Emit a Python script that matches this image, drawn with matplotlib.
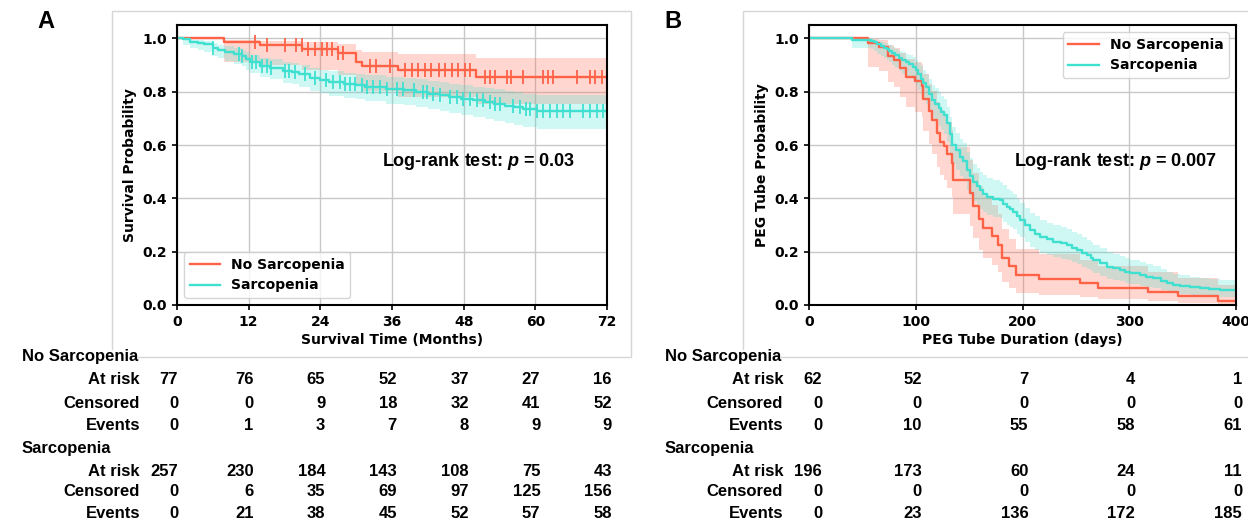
import numpy as np
import matplotlib
matplotlib.use("Agg")
import matplotlib.pyplot as plt
from matplotlib.patches import Rectangle
from matplotlib.transforms import blended_transform_factory, offset_copy

plt.rcParams["font.family"] = "DejaVu Sans"
plt.rcParams["mathtext.fontset"] = "custom"
plt.rcParams["mathtext.rm"] = "Liberation Sans:bold"
plt.rcParams["mathtext.it"] = "Liberation Sans:italic:bold"

RED = "#FF6347"
TEAL = "#40E0D0"

# --- Panel A: overall survival (months) ---
a_no_t = [0, 7.9, 13.9, 21, 27, 30, 31, 37, 50]
a_no_s = [1.0, .987, .974, .960, .945, .911, .897, .880, .855]
a_no_lo = [1.0, .912, .899, .882, .864, .820, .802, .780, .755]
a_no_hi = [1.0, .995, .990, .985, .978, .955, .949, .943, .925]
a_no_cens = [13.1, 15, 18.1, 20, 20.9, 22, 23.1, 24.2, 25.1, 26, 27, 27.8, 32.3, 33.4,
             35.7, 38.2, 39.3, 40.4, 41.5, 42.6, 43.8, 44.9, 46, 47.1, 48.2, 49.1, 51.6,
             52.4, 53.2, 55.2, 56, 58, 61.3, 62.2, 63, 66.9, 69.1, 70, 71.1]

a_sa_t = [0, 1, 2.2, 3.5, 4.5, 6, 6.8, 8, 9.5, 10.8, 11.6, 12.3, 13.9, 15.6, 17.8, 19.2,
          20.5, 22.3, 24, 25.5, 28, 30, 31.5, 35, 38, 40, 42, 44, 45.5, 47.5, 49.5, 51.5,
          53, 55, 56.5, 58, 60.2]
a_sa_s = [1.0, .996, .988, .982, .977, .965, .957, .949, .941, .933, .921, .910, .898, .890,
          .878, .874, .866, .853, .845, .836, .830, .824, .818, .810, .805, .799, .792, .786,
          .780, .774, .767, .761, .755, .748, .741, .735, .728]
a_sa_lo = [1.0, .975, .965, .955, .948, .935, .925, .915, .905, .897, .882, .869, .855, .846,
           .832, .827, .818, .804, .795, .785, .778, .771, .764, .755, .749, .742, .734, .727,
           .720, .713, .705, .698, .691, .683, .675, .668, .660]
a_sa_hi = [1.0, .999, .995, .992, .990, .981, .976, .970, .964, .957, .947, .938, .928, .921,
           .911, .908, .901, .890, .883, .876, .871, .866, .861, .855, .851, .846, .840, .835,
           .830, .825, .819, .814, .809, .803, .797, .792, .787]
a_sa_cens = [6, 10.3, 10.8, 12.5, 13.2, 14.2, 15, 15.8, 18.1, 18.8, 19.8, 21.4, 23.1, 25,
             26.2, 27.3, 28.1, 29, 29.8, 30.9, 31.8, 32.9, 34, 35.1, 36.8, 37.9, 39.6, 41.2,
             41.8, 42.9, 44, 45.7, 46.8, 47.9, 49.1, 50.2, 51.3, 52.4, 53.2, 54.1, 56.3, 57.4,
             58.5, 59.1, 60.2, 61.3, 62.4, 63.6, 64.7, 65.8, 68, 69.1, 70.3, 71.4]

a_ticks = [0, 12, 24, 36, 48, 60, 72]
a_no_risk = [77, 76, 65, 52, 37, 27, 16]
a_no_censored = [0, 0, 9, 18, 32, 41, 52]
a_no_events = [0, 1, 3, 7, 8, 9, 9]
a_sa_risk = [257, 230, 184, 143, 108, 75, 43]
a_sa_censored = [0, 6, 35, 69, 97, 125, 156]
a_sa_events = [0, 21, 38, 45, 52, 57, 58]

# --- Panel B: PEG tube duration (days) ---
b_no_t = [0, 55, 66, 74, 80, 85, 91, 99, 106, 107, 112, 115, 120, 123, 126, 129, 134, 135,
          151, 154, 159, 163, 171, 177, 181, 187, 194, 215, 254, 271, 318, 346, 383]
b_no_s = [1.0, .984, .968, .935, .919, .887, .855, .839, .823, .774, .726, .694, .645, .613,
          .597, .565, .532, .468, .419, .371, .323, .290, .258, .226, .177, .145, .113, .097,
          .081, .065, .048, .032, .016]
b_no_lo = [1.0, .891, .877, .838, .818, .779, .741, .722, .705, .653, .602, .568, .518, .486,
           .470, .439, .406, .343, .296, .251, .207, .178, .150, .124, .087, .064, .046, .038,
           .030, .022, .014, .008, .002]
b_no_hi = [1.0, .998, .992, .976, .965, .945, .924, .913, .902, .866, .828, .802, .760, .732,
           .718, .688, .658, .594, .545, .496, .446, .410, .376, .341, .286, .249, .210, .190,
           .170, .148, .125, .100, .075]

b_sa_t = [0, 40, 58, 61, 64, 67, 70, 73, 75, 78, 81, 84, 87.5, 91, 94, 97, 100, 102, 104.6,
          107, 109.3, 112, 115.5, 118, 121.8, 124, 126.5, 129.6, 132, 134.3, 138, 141.4, 144,
          147.7, 151, 154, 157, 160.2, 163, 166.5, 172, 179, 182, 185.3, 188, 191.5, 195,
          197.8, 202, 207.2, 212, 216.6, 223, 229, 236, 241.5, 246, 250.9, 256, 260.3, 264,
          266.5, 273, 279, 285, 291.5, 296, 300.9, 310.2, 316, 322.7, 330, 335.2, 341, 347.7,
          357, 366.4, 375, 385.2]
b_sa_s = [1.0, .995, .990, .985, .977, .972, .964, .959, .954, .944,
          .936, .926, .918, .911, .903, .893, .880, .865, .849, .832,
          .816, .793, .768, .755, .740, .725, .712, .681, .640, .600,
          .580, .555, .540, .506, .482, .462, .445, .431, .418, .406,
          .399, .393, .380, .368, .360, .350, .332, .318, .300, .281,
          .268, .256, .246, .237, .231, .225, .215, .206, .196, .187,
          .178, .169, .157, .144, .137, .131, .125, .119, .112, .106,
          .100, .090, .081, .076, .071, .066, .062, .059, .056]
b_sa_lo = [1.0, .965, .960, .953, .943, .935, .925, .918, .912, .900,
           .890, .878, .868, .859, .851, .839, .825, .808, .789, .771,
           .754, .729, .703, .689, .673, .657, .643, .611, .569, .528,
           .508, .482, .467, .433, .410, .390, .374, .361, .348, .337,
           .330, .325, .312, .301, .294, .284, .267, .254, .237, .219,
           .207, .196, .187, .179, .174, .168, .160, .152, .143, .135,
           .127, .120, .110, .099, .094, .089, .084, .079, .073, .069,
           .064, .056, .049, .046, .042, .038, .035, .033, .031]
b_sa_hi = [1.0, .999, .997, .995, .990, .987, .981, .978, .975, .967,
           .961, .954, .948, .942, .937, .929, .919, .908, .895, .881,
           .867, .847, .825, .812, .798, .784, .772, .743, .705, .666,
           .646, .622, .608, .574, .550, .530, .514, .500, .487, .475,
           .468, .462, .449, .436, .428, .417, .399, .384, .365, .345,
           .332, .319, .308, .299, .292, .286, .275, .265, .254, .245,
           .235, .225, .212, .198, .190, .183, .176, .169, .161, .154,
           .147, .135, .124, .118, .112, .106, .101, .097, .093]

b_ticks = [0, 100, 200, 300, 400]
b_no_risk = [62, 52, 7, 4, 1]
b_no_censored = [0, 0, 0, 0, 0]
b_no_events = [0, 10, 55, 58, 61]
b_sa_risk = [196, 173, 60, 24, 11]
b_sa_censored = [0, 0, 0, 0, 0]
b_sa_events = [0, 23, 136, 172, 185]

W, H = 1248, 523
fig = plt.figure(figsize=(W / 100, H / 100), dpi=100)


def fx(px):
    return px / W


def fy(py):
    return 1 - py / H


# light gray frames around each panel
for x0, x1 in [(112, 631), (743, 1260)]:
    fig.patches.append(Rectangle((fx(x0), fy(357)), fx(x1 - x0), (357 - 11) / H,
                                 transform=fig.transFigure, facecolor="none",
                                 edgecolor="#d6d6d6", linewidth=1, zorder=0))


def km_curve(ax, t, s, lo, hi, xmax, color, label, cens=None):
    x = np.append(t, xmax)
    y = np.append(s, s[-1])
    ax.fill_between(x, np.append(lo, lo[-1]), np.append(hi, hi[-1]), step="post",
                    color=color, alpha=0.25, linewidth=0)
    ax.step(x, y, where="post", color=color, linewidth=1.7, label=label)
    if cens is not None:
        idx = np.searchsorted(t, cens, side="right") - 1
        ax.plot(cens, np.array(s)[idx], linestyle="none", marker="|", color=color,
                markersize=10, markeredgewidth=1.3)


def style_axes(ax, ticks, xlabel, ylabel):
    ax.set_xlim(ticks[0], ticks[-1])
    ax.set_ylim(0, 1.05)
    ax.set_xticks(ticks)
    ax.set_yticks([0, 0.2, 0.4, 0.6, 0.8, 1.0])
    ax.grid(True, color="#c8c8c8", linewidth=1)
    ax.set_axisbelow(True)
    for sp in ax.spines.values():
        sp.set_linewidth(1.5)
    ax.tick_params(labelsize=10, width=1.2)
    for lbl in ax.get_xticklabels() + ax.get_yticklabels():
        lbl.set_fontweight("bold")
    ax.set_xlabel(xlabel, fontsize=10, fontweight="bold", labelpad=3)
    ax.set_ylabel(ylabel, fontsize=10, fontweight="bold")


def risk_table(ax, ticks, rows_no, rows_sa, label_dx, first_dx, col_dx, title_px):
    trans = blended_transform_factory(ax.transData, fig.transFigure)
    tfont = dict(family="Liberation Sans", fontweight="bold", fontsize=12)
    row_names = ["At risk", "Censored", "Events"]
    blocks = [("No Sarcopenia", rows_no, [357, 380, 403, 426]),
              ("Sarcopenia", rows_sa, [449, 471, 492, 514])]
    for title, rows, ys in blocks:
        fig.text(fx(title_px), fy(ys[0]), title, ha="left", va="center",
                 bbox=dict(facecolor="white", edgecolor="none", pad=0), **tfont)
        for name, vals, yp in zip(row_names, rows, ys[1:]):
            fig.text(ticks[0], fy(yp), name, ha="right", va="center",
                     transform=offset_copy(trans, fig=fig, x=label_dx, units="dots"),
                     **tfont)
            for i, (tk, v) in enumerate(zip(ticks, vals)):
                dx = first_dx if i == 0 else col_dx
                fig.text(tk, fy(yp), str(v), ha="right", va="center",
                         transform=offset_copy(trans, fig=fig, x=dx, units="dots"),
                         **tfont)


# --- Panel A ---
axA = fig.add_axes([fx(177), fy(305), fx(607 - 177), (305 - 25) / H])
km_curve(axA, a_no_t, a_no_s, a_no_lo, a_no_hi, 72, RED, "No Sarcopenia", a_no_cens)
km_curve(axA, a_sa_t, a_sa_s, a_sa_lo, a_sa_hi, 72, TEAL, "Sarcopenia", a_sa_cens)
style_axes(axA, a_ticks, "Survival Time (Months)", "Survival Probability")
axA.legend(loc="lower left", prop=dict(weight="bold", size=10), handlelength=2.2)
axA.text(34.3, 0.54, "Log-rank test: $p$ = 0.03", ha="left", va="center",
         family="Liberation Sans", fontweight="bold", fontsize=13)
risk_table(axA, a_ticks, [a_no_risk, a_no_censored, a_no_events],
           [a_sa_risk, a_sa_censored, a_sa_events], -37, 1, 5, 22)
fig.text(fx(46), fy(22), "A", ha="center", va="center", family="Liberation Sans",
         fontweight="bold", fontsize=17)

# --- Panel B ---
axB = fig.add_axes([fx(809), fy(305), fx(1236 - 809), (305 - 25) / H])
km_curve(axB, b_no_t, b_no_s, b_no_lo, b_no_hi, 400, RED, "No Sarcopenia")
km_curve(axB, b_sa_t, b_sa_s, b_sa_lo, b_sa_hi, 400, TEAL, "Sarcopenia")
style_axes(axB, b_ticks, "PEG Tube Duration (days)", "PEG Tube Probability")
axB.legend(loc="upper right", prop=dict(weight="bold", size=10), handlelength=2.2)
axB.text(192, 0.54, "Log-rank test: $p$ = 0.007", ha="left", va="center",
         family="Liberation Sans", fontweight="bold", fontsize=13)
risk_table(axB, b_ticks, [b_no_risk, b_no_censored, b_no_events],
           [b_sa_risk, b_sa_censored, b_sa_events], -26, 13, 6, 665)
fig.text(fx(673), fy(22), "B", ha="center", va="center", family="Liberation Sans",
         fontweight="bold", fontsize=17)

fig.savefig("out.png", dpi=100)
